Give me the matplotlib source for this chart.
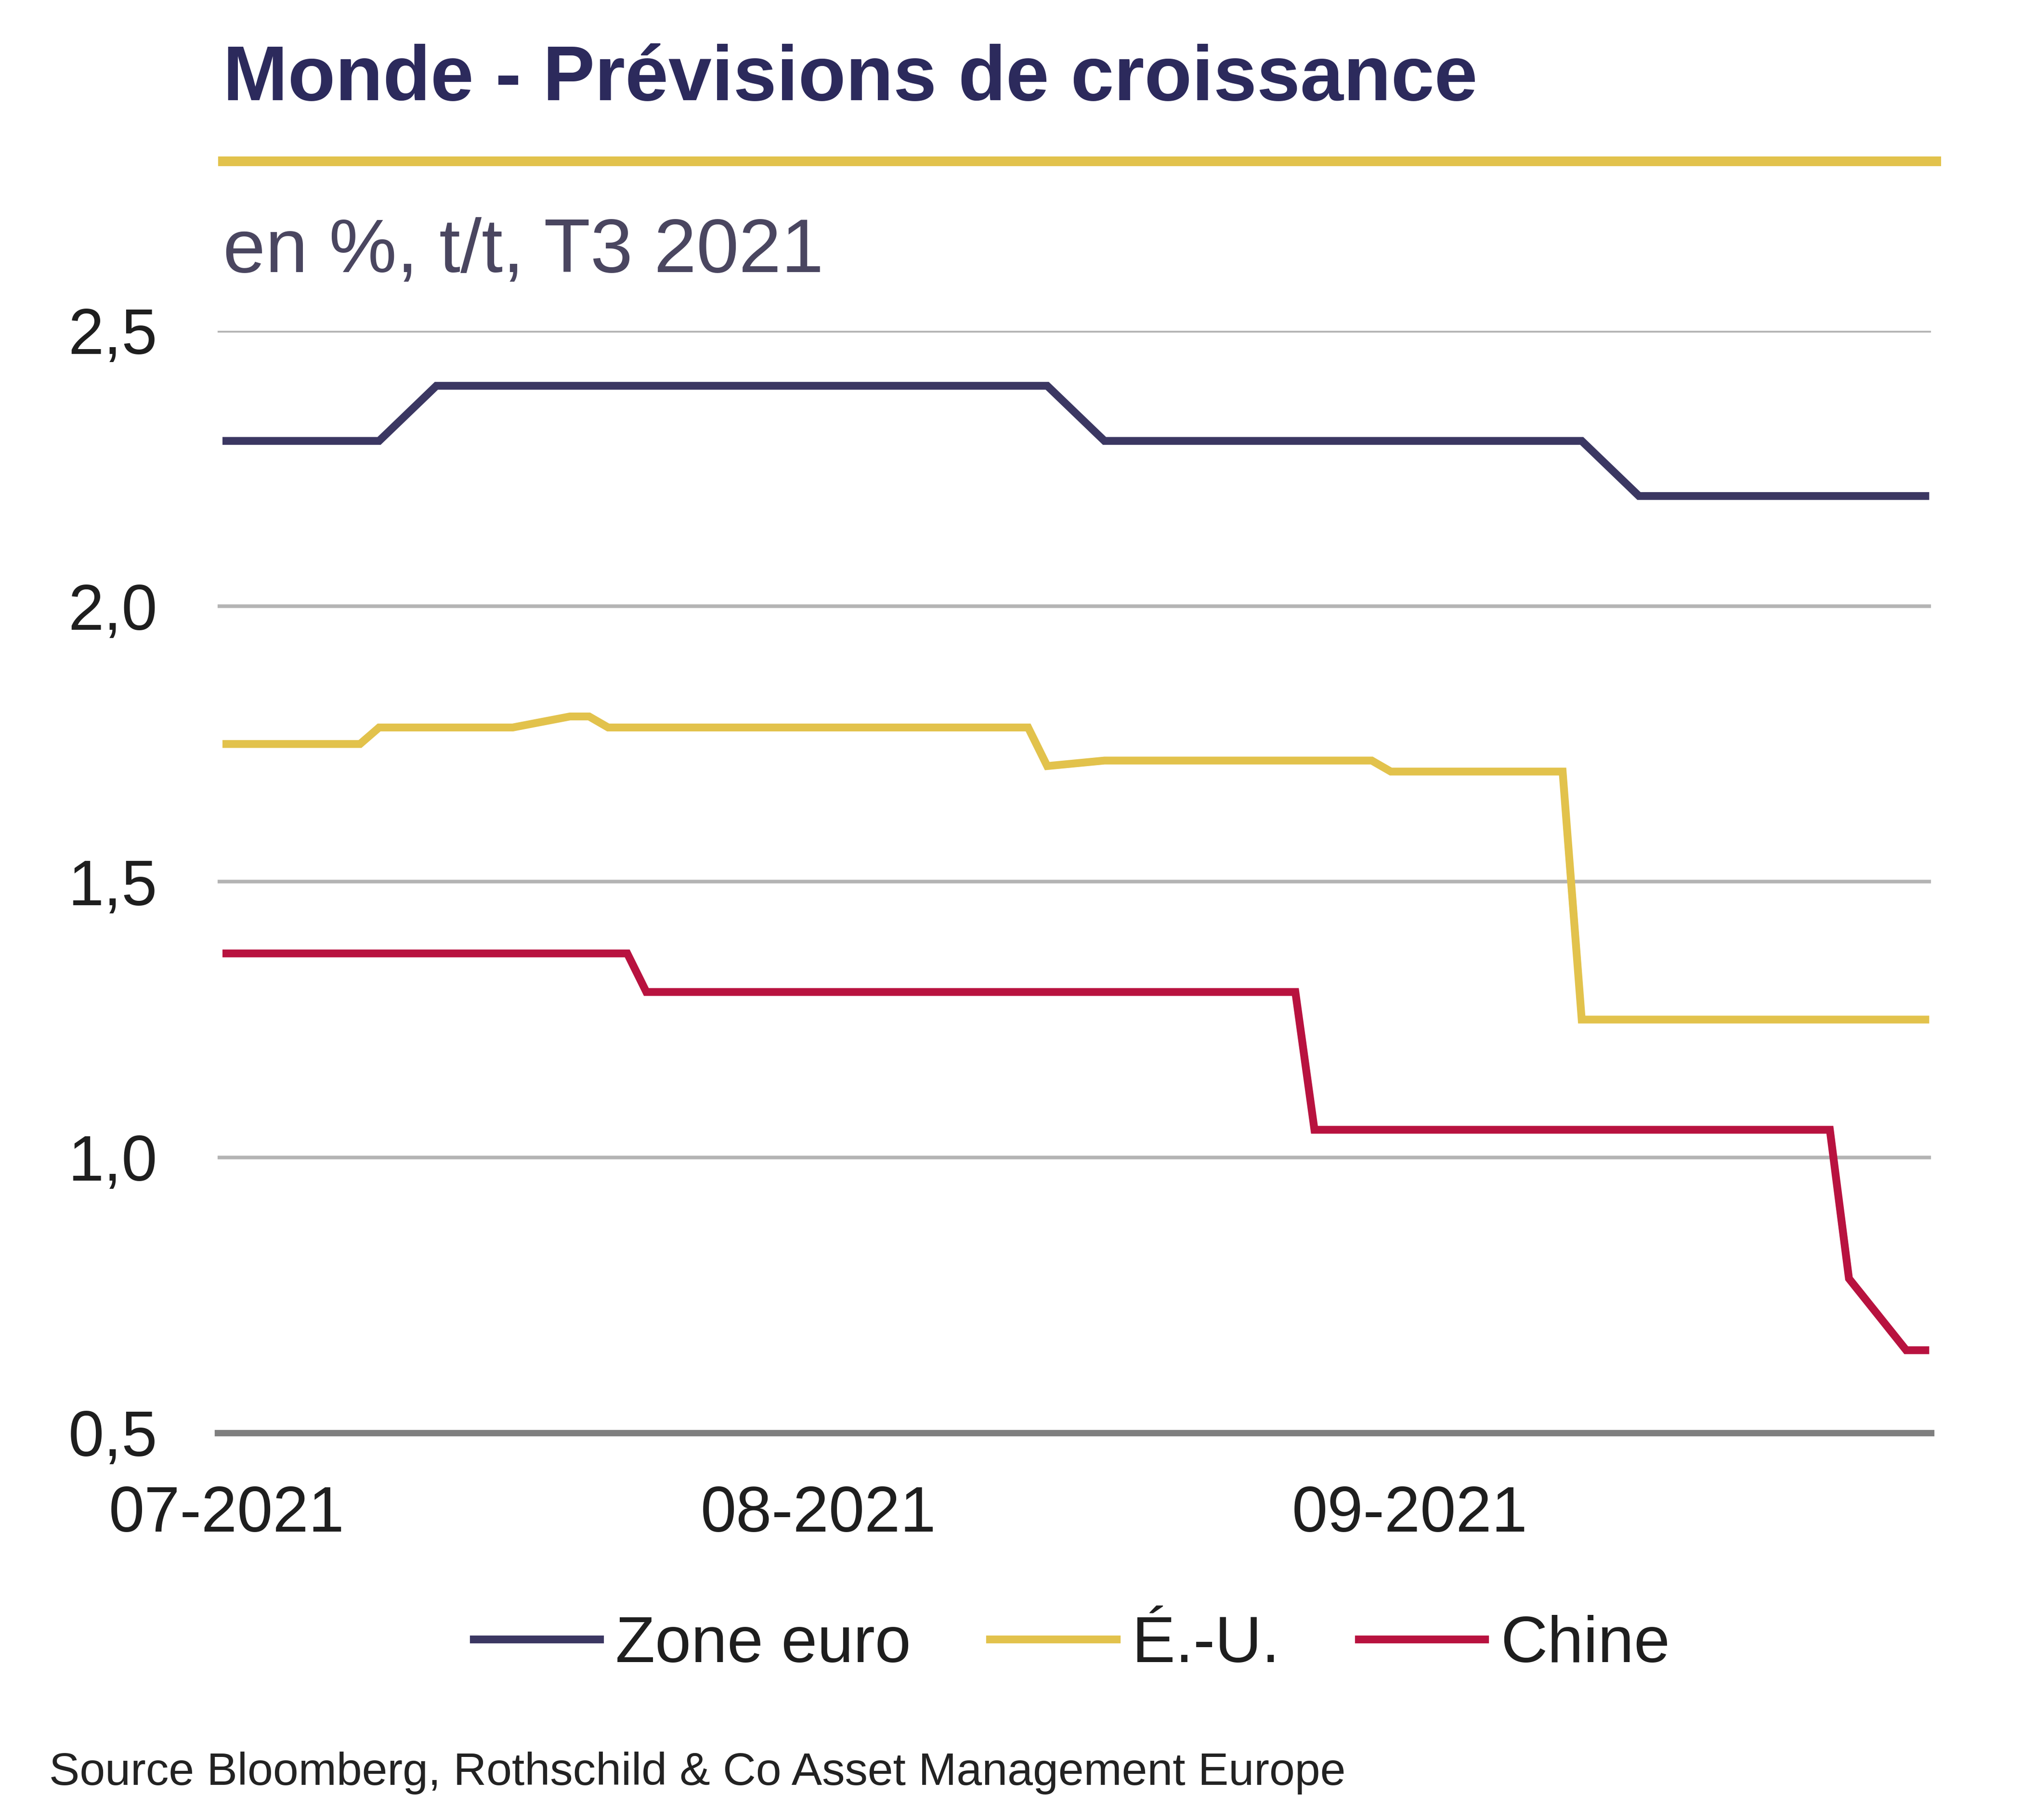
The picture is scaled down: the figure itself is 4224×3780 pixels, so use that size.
import pandas as pd
import matplotlib
matplotlib.use("Agg")
import matplotlib.pyplot as plt
from matplotlib.lines import Line2D

plt.rcParams['font.family'] = ['Liberation Sans', 'DejaVu Sans']

# Data
dates_ze = ["2021-07-01", "2021-07-09", "2021-07-12", "2021-08-13",
            "2021-08-16", "2021-09-10", "2021-09-13", "2021-09-28"]
vals_ze = [2.3, 2.3, 2.4, 2.4, 2.3, 2.3, 2.2, 2.2]

dates_us = ["2021-07-01", "2021-07-08", "2021-07-09", "2021-07-16",
            "2021-07-19", "2021-07-20", "2021-07-21", "2021-08-12",
            "2021-08-13", "2021-08-16", "2021-08-30", "2021-08-31",
            "2021-09-09", "2021-09-10", "2021-09-28"]
vals_us = [1.75, 1.75, 1.78, 1.78, 1.80, 1.80, 1.78, 1.78,
           1.71, 1.72, 1.72, 1.70, 1.70, 1.25, 1.25]

dates_cn = ["2021-07-01", "2021-07-22", "2021-07-23", "2021-08-26",
            "2021-08-27", "2021-09-23", "2021-09-24", "2021-09-27",
            "2021-09-28"]
vals_cn = [1.37, 1.37, 1.30, 1.30, 1.05, 1.05, 0.78, 0.65, 0.65]

labels = ["Zone euro", "É.-U.", "Chine"]
y_ticks = [0.5, 1.0, 1.5, 2.0, 2.5]
y_ticklabels = ["0,5", "1,0", "1,5", "2,0", "2,5"]
x_ticks = ["2021-07-01", "2021-08-01", "2021-09-01"]
x_ticklabels = ["07-2021", "08-2021", "09-2021"]

navy = "#3b3762"
yellow = "#e2c24c"
red = "#b8123f"

fig = plt.figure(figsize=(14.08, 12.6), dpi=300)
ax = fig.add_axes([0.107, 0.2127, 0.8423, 0.6056])

ax.plot(pd.to_datetime(dates_ze), vals_ze, color=navy, lw=3.9,
        label=labels[0], solid_joinstyle='miter')
ax.plot(pd.to_datetime(dates_us), vals_us, color=yellow, lw=3.9,
        label=labels[1], solid_joinstyle='miter')
ax.plot(pd.to_datetime(dates_cn), vals_cn, color=red, lw=3.9,
        label=labels[2], solid_joinstyle='miter')

ax.set_xlim(pd.Timestamp("2021-07-01") - pd.Timedelta(hours=11),
            pd.Timestamp("2021-09-28") + pd.Timedelta(hours=7))
ax.set_ylim(0.5, 2.5)

ax.set_yticks(y_ticks)
ax.set_yticklabels(y_ticklabels)
ax.set_xticks(pd.to_datetime(x_ticks))
ax.set_xticklabels(x_ticklabels)

ax.tick_params(axis='y', length=0, pad=30, labelsize=32, labelcolor="#1e1e1e")
ax.tick_params(axis='x', length=0, pad=26, labelsize=32, labelcolor="#1e1e1e")

ax.grid(axis='y', color="#b4b4b4", lw=1.8)
ax.set_axisbelow(True)
for s in ["top", "right", "left"]:
    ax.spines[s].set_visible(False)
ax.spines["bottom"].set_color("#7f7f7f")
ax.spines["bottom"].set_linewidth(3.2)

# Title block
fig.text(0.1096, 0.9451, "Monde - Prévisions de croissance", fontsize=38.8,
         fontweight='bold', color="#2c2a5c", va='baseline', ha='left')
fig.add_artist(Line2D([0.1096, 0.952], [0.9114, 0.9114], color=yellow,
                      lw=4.8, transform=fig.transFigure))
fig.text(0.1096, 0.8505, "en %, t/t, T3 2021", fontsize=38,
         color="#4a4660", va='baseline', ha='left')

# Legend
fig.legend(loc='center', bbox_to_anchor=(0.527, 0.096), ncol=3,
           frameon=False, fontsize=32.3, handlelength=1.95,
           handletextpad=0.24, columnspacing=1.22,
           labelcolor="#1e1e1e")

# Source
fig.text(0.0242, 0.0193, "Source Bloomberg, Rothschild & Co Asset Management Europe",
         fontsize=22.8, color="#222222", va='baseline', ha='left')

fig.savefig("out.png", dpi=300)
